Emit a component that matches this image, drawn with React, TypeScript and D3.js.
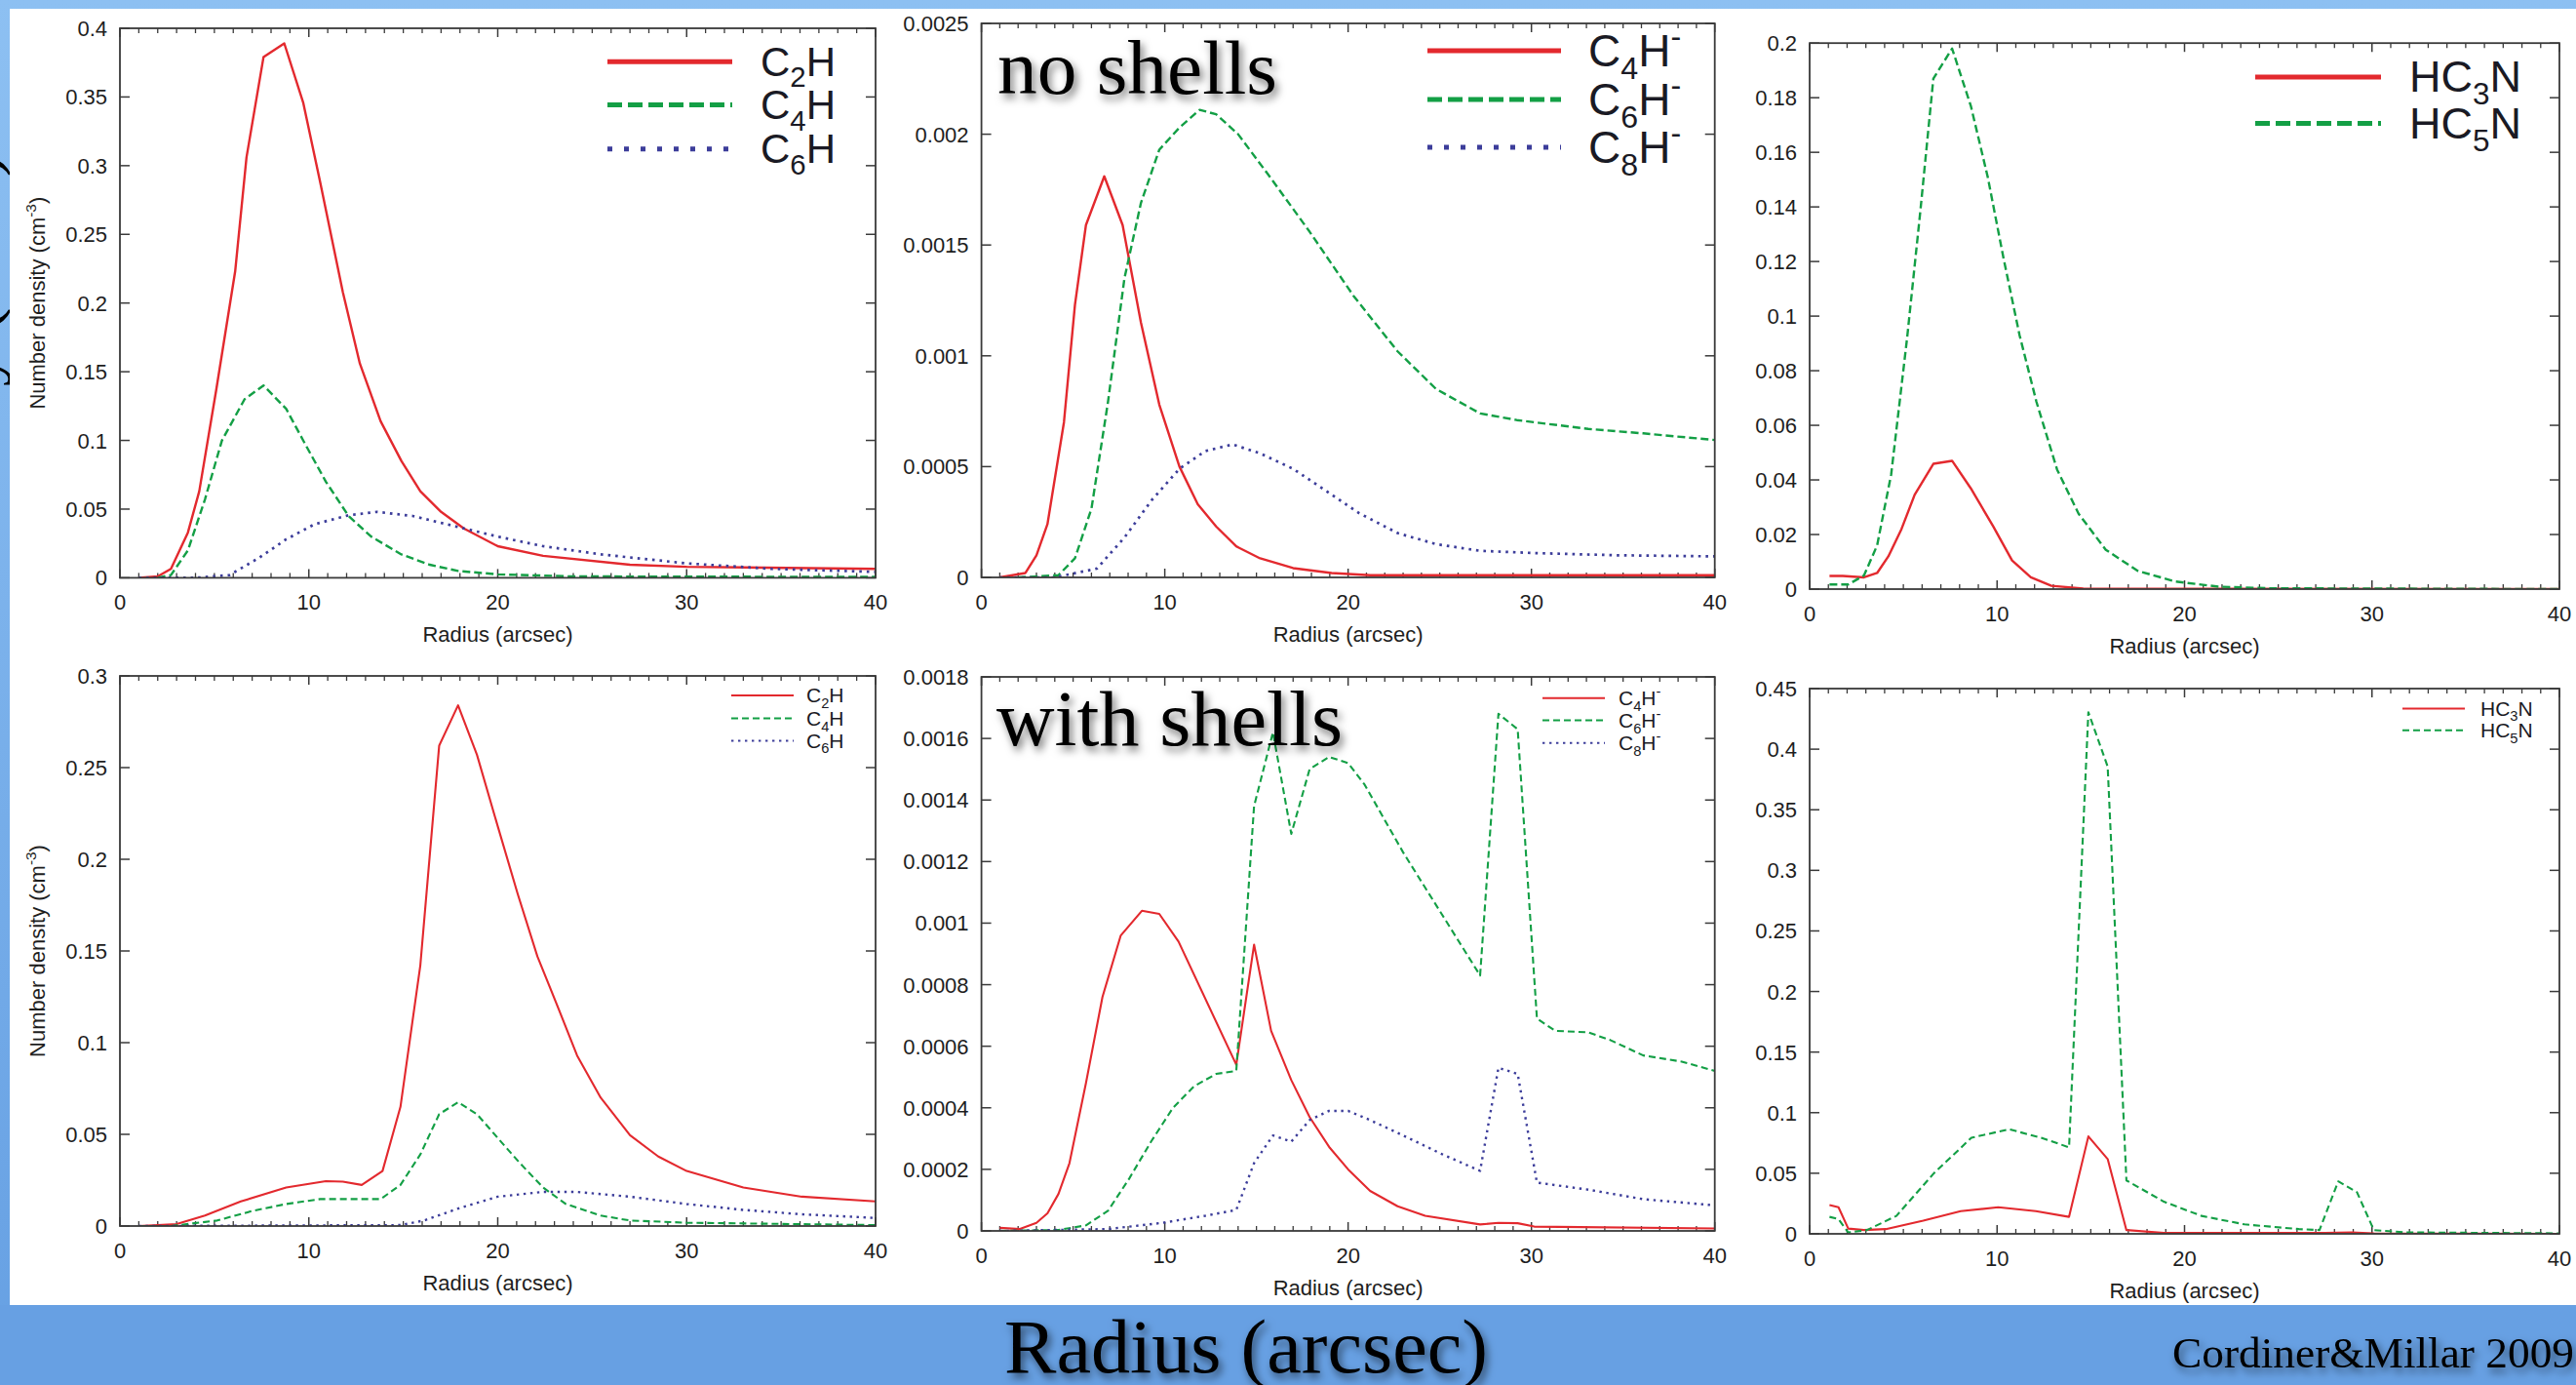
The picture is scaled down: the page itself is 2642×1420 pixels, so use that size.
import React from 'react';
import * as d3 from 'd3';

const W = 2642;
const H = 1420;

type Pt = [number, number];

// ---------- tick labels ----------
const xTicks = [0, 10, 20, 30, 40];
const tlYTicks = [0, 0.05, 0.1, 0.15, 0.2, 0.25, 0.3, 0.35, 0.4];
const tmYTicks = [0, 0.0005, 0.001, 0.0015, 0.002, 0.0025];
const trYTicks = [0, 0.02, 0.04, 0.06, 0.08, 0.1, 0.12, 0.14, 0.16, 0.18, 0.2];
const blYTicks = [0, 0.05, 0.1, 0.15, 0.2, 0.25, 0.3];
const bmYTicks = [0, 0.0002, 0.0004, 0.0006, 0.0008, 0.001, 0.0012, 0.0014, 0.0016, 0.0018];
const brYTicks = [0, 0.05, 0.1, 0.15, 0.2, 0.25, 0.3, 0.35, 0.4, 0.45];

// ---------- series: no shells ----------
const tlC2H: Pt[] = [[1,0],[2,0.001],[2.7,0.0065],[3.6,0.033],[4.2,0.063],[5.1,0.137],[6.1,0.223],[6.7,0.306],[7.6,0.379],[8.7,0.389],[9.7,0.346],[10.6,0.288],[11.8,0.208],[12.7,0.156],[13.8,0.114],[14.9,0.085],[15.9,0.063],[17,0.048],[18.2,0.036],[20,0.023],[22.4,0.016],[27,0.0095],[30,0.008],[40,0.0065]];
const tlC4H: Pt[] = [[2,0],[2.7,0.002],[3.6,0.02],[4.5,0.057],[5.4,0.1],[6.6,0.13],[7.6,0.14],[8.8,0.123],[9.7,0.1],[10.9,0.07],[12.1,0.045],[13.3,0.03],[14.9,0.017],[16.4,0.0095],[17.9,0.005],[20,0.0025],[24,0.001],[40,0.0006]];
const tlC6H: Pt[] = [[1,0],[4,0],[5.8,0.002],[7.3,0.014],[8.8,0.028],[10.3,0.039],[12.1,0.0455],[13.6,0.048],[15.5,0.045],[17.9,0.037],[20,0.03],[22.4,0.023],[25.5,0.017],[30,0.0105],[34.5,0.0065],[40,0.0043]];

const tmC4Hm: Pt[] = [[1,0],[2.4,0.00002],[3,0.0001],[3.6,0.00024],[4.5,0.0007],[5.1,0.00123],[5.7,0.00159],[6.7,0.00181],[7.7,0.00159],[8.7,0.00115],[9.7,0.00078],[10.8,0.0005],[11.8,0.00033],[12.8,0.00023],[13.9,0.00014],[15.2,0.000086],[17,0.000042],[19.1,0.00002],[21.2,0.00001],[40,0.00001]];
const tmC6Hm: Pt[] = [[2,0],[4.2,0.00001],[5.1,0.000086],[6,0.00031],[6.9,0.00079],[7.8,0.00135],[8.7,0.00169],[9.7,0.00193],[10.8,0.00203],[11.9,0.00211],[12.8,0.00209],[14,0.002],[15.8,0.0018],[17.9,0.00156],[20.3,0.00127],[22.7,0.00102],[24.8,0.00085],[27.2,0.00074],[29.2,0.00071],[33.1,0.00067],[36.1,0.00065],[40,0.00062]];
const tmC8Hm: Pt[] = [[1,0],[4,0],[6.3,0.00004],[7.8,0.00018],[9.3,0.00035],[10.8,0.00049],[12.2,0.00057],[13.7,0.0006],[15.2,0.00056],[17,0.00049],[18.8,0.00039],[20.6,0.00029],[22.7,0.0002],[24.8,0.00015],[27.2,0.00012],[30.1,0.00011],[34.6,0.0001],[40,0.000095]];

const trHC3N: Pt[] = [[1.06,0.0048],[1.77,0.0048],[2.9,0.0043],[3.6,0.0059],[4.2,0.012],[4.9,0.022],[5.6,0.0345],[6.6,0.0459],[7.6,0.047],[8.6,0.0369],[9.8,0.0229],[10.8,0.0105],[11.8,0.0043],[12.9,0.0012],[14.6,0.0002],[40,0]];
const trHC5N: Pt[] = [[1.06,0.0017],[2.06,0.0017],[2.9,0.005],[3.6,0.016],[4.35,0.042],[5.2,0.092],[5.9,0.138],[6.6,0.187],[7.6,0.198],[8.6,0.177],[9.5,0.151],[10.35,0.121],[11.2,0.093],[12.1,0.0686],[13.2,0.0438],[14.35,0.0276],[15.8,0.0144],[17.5,0.0067],[19.5,0.0028],[21.8,0.0009],[24.6,0.0003],[40,0]];

// ---------- series: with shells ----------
const blC2H: Pt[] = [[1,0],[3,0.001],[4.5,0.0057],[6.4,0.0134],[8.8,0.021],[10.9,0.0245],[11.8,0.0242],[12.8,0.0224],[13.9,0.03],[14.85,0.065],[15.9,0.142],[16.9,0.262],[17.9,0.284],[18.9,0.257],[20,0.218],[21.06,0.181],[22.1,0.147],[23.2,0.119],[24.2,0.093],[25.45,0.07],[27,0.0495],[28.5,0.0379],[30,0.03],[33,0.021],[36.1,0.016],[40,0.0134]];
const blC4H: Pt[] = [[1,0],[2.7,0],[5.15,0.003],[7,0.0082],[8.8,0.012],[10.6,0.0147],[12.7,0.0147],[13.8,0.0147],[14.85,0.0224],[15.9,0.039],[16.9,0.061],[17.9,0.0675],[18.9,0.061],[20,0.048],[21.2,0.034],[22.4,0.021],[23.6,0.012],[25.45,0.0057],[27,0.003],[30,0.0018],[40,0.0005]];
const blC6H: Pt[] = [[1,0],[14.85,0.0005],[16.1,0.003],[17.9,0.0095],[20,0.016],[22.4,0.0186],[24.2,0.0186],[27,0.016],[30,0.012],[33,0.0088],[36.1,0.0064],[40,0.0044]];

const bmC4Hm: Pt[] = [[1,0.00001],[2.1,0.000006],[3,0.000026],[3.6,0.000057],[4.2,0.00012],[4.8,0.00022],[5.7,0.00048],[6.6,0.00076],[7.6,0.00096],[8.75,0.00104],[9.7,0.00103],[10.75,0.00094],[13.9,0.00054],[14.87,0.00093],[15.8,0.00065],[16.9,0.00049],[17.9,0.00037],[19,0.00027],[20,0.0002],[21.2,0.00013],[22.7,0.00008],[24.2,0.000049],[27.2,0.000021],[28.2,0.000026],[29.25,0.000025],[30.15,0.000014],[40,0.0000077]];
const bmC6Hm: Pt[] = [[1,0],[4.2,0.000003],[5.7,0.000018],[6.9,0.000065],[8.06,0.00017],[9.25,0.00029],[10.45,0.0004],[11.6,0.00047],[12.8,0.00051],[13.9,0.00052],[14.87,0.00138],[15.9,0.00162],[16.9,0.00129],[17.9,0.0015],[18.96,0.00154],[20,0.00152],[20.9,0.00145],[23,0.00123],[25.1,0.00103],[27.2,0.00083],[28.2,0.00168],[29.25,0.00163],[30.3,0.00069],[31.3,0.00065],[33.1,0.000645],[34.3,0.00062],[36.1,0.00057],[38.2,0.00055],[40,0.00052]];
const bmC8Hm: Pt[] = [[1,0],[6.9,0.000006],[9.85,0.000026],[12.2,0.000049],[13.9,0.000068],[14.87,0.00022],[15.9,0.00031],[16.9,0.00029],[17.9,0.00036],[18.96,0.00039],[20,0.00039],[21.2,0.00036],[23,0.00031],[25.1,0.00025],[27.2,0.000195],[28.2,0.00053],[29.25,0.00051],[30.3,0.000157],[33.1,0.000134],[36.1,0.000103],[40,0.000083]];

const brHC3N: Pt[] = [[1.06,0.0238],[1.54,0.0219],[2.06,0.0043],[2.9,0.0031],[4.06,0.0039],[6.06,0.0109],[8.06,0.0187],[10.06,0.0219],[12.07,0.0187],[13.84,0.014],[14.87,0.0804],[15.9,0.0617],[16.9,0.0031],[18.9,0.0008],[27.5,0.0008],[28.9,0.0012],[30.1,0.0004],[40,0]];
const brHC5N: Pt[] = [[1.06,0.014],[1.54,0.0121],[2.06,0.0012],[3.06,0.0031],[4.63,0.0148],[6.63,0.05],[8.63,0.0793],[10.64,0.0863],[12.35,0.0793],[13.84,0.0714],[14.87,0.4305],[15.9,0.3856],[16.9,0.0441],[18.9,0.0265],[20.9,0.0148],[23.2,0.0078],[26.1,0.0039],[27.2,0.0031],[28.2,0.0433],[29.2,0.0343],[30.1,0.0031],[31.8,0.0012],[40,0.0004]];

const labelsHydrocarbons = ['C_2H', 'C_4H', 'C_6H'];
const labelsAnions = ['C_4H^-', 'C_6H^-', 'C_8H^-'];
const labelsCyano = ['HC_3N', 'HC_5N'];

// ---------- styles ----------
const RED = '#e3292e';
const GREEN = '#139f45';
const BLUE = '#3c3d9a';
const SANS = '"Liberation Sans", Arial, Helvetica, sans-serif';
const SERIF = '"Liberation Serif", "DejaVu Serif", serif';

type Style = { color: string; dash: string | null };
const styles: Style[] = [
  { color: RED, dash: null },
  { color: GREEN, dash: 'dash' },
  { color: BLUE, dash: 'dot' },
];

type Panel = {
  id: string;
  x0: number; x1: number; y0: number; y1: number;
  yMax: number; yTicks: number[];
  series: Pt[][];
  labels: string[];
  legend: { lx0: number; lx1: number; tx: number; rows: number[]; fs: number; lw: number; big: boolean };
  ylabel: boolean;
};

const panels: Panel[] = [
  { id: 'tl', x0: 123, x1: 898, y0: 29, y1: 592.4, yMax: 0.4, yTicks: tlYTicks,
    series: [tlC2H, tlC4H, tlC6H], labels: labelsHydrocarbons,
    legend: { lx0: 623, lx1: 751, tx: 780, rows: [63.3, 107.6, 152.7], fs: 42, lw: 5, big: true }, ylabel: true },
  { id: 'tm', x0: 1006.6, x1: 1758.7, y0: 24, y1: 592, yMax: 0.0025, yTicks: tmYTicks,
    series: [tmC4Hm, tmC6Hm, tmC8Hm], labels: labelsAnions,
    legend: { lx0: 1464, lx1: 1601, tx: 1629, rows: [52, 102, 151], fs: 46, lw: 5, big: true }, ylabel: false },
  { id: 'tr', x0: 1856, x1: 2625, y0: 44.2, y1: 604, yMax: 0.2, yTicks: trYTicks,
    series: [trHC3N, trHC5N], labels: labelsCyano,
    legend: { lx0: 2313, lx1: 2442, tx: 2471, rows: [79, 126.6], fs: 45, lw: 5, big: true }, ylabel: false },
  { id: 'bl', x0: 123, x1: 898, y0: 693, y1: 1257, yMax: 0.3, yTicks: blYTicks,
    series: [blC2H, blC4H, blC6H], labels: labelsHydrocarbons,
    legend: { lx0: 750, lx1: 814, tx: 827, rows: [713, 736.6, 759.4], fs: 21, lw: 2, big: false }, ylabel: true },
  { id: 'bm', x0: 1006.6, x1: 1758.7, y0: 694, y1: 1262, yMax: 0.0018, yTicks: bmYTicks,
    series: [bmC4Hm, bmC6Hm, bmC8Hm], labels: labelsAnions,
    legend: { lx0: 1582, lx1: 1646, tx: 1660, rows: [715.7, 738.5, 761.8], fs: 21, lw: 2, big: false }, ylabel: false },
  { id: 'br', x0: 1856, x1: 2625, y0: 706, y1: 1265, yMax: 0.45, yTicks: brYTicks,
    series: [brHC3N, brHC5N], labels: labelsCyano,
    legend: { lx0: 2464, lx1: 2528, tx: 2544, rows: [726.4, 748.7], fs: 21, lw: 2, big: false }, ylabel: false },
];

const fmt = d3.format('~g');

function RichText({ spec, fs }: { spec: string; fs: number }) {
  const parts: { t: string; k: 'n' | 'sub' | 'sup' }[] = [];
  for (let i = 0; i < spec.length; i++) {
    const c = spec[i];
    if (c === '_' && i + 1 < spec.length) { parts.push({ t: spec[i + 1], k: 'sub' }); i++; }
    else if (c === '^' && i + 1 < spec.length) {
      let j = i + 1; let s = '';
      while (j < spec.length && spec[j] !== ')' && spec[j] !== ' ') { s += spec[j]; j++; }
      parts.push({ t: s, k: 'sup' }); i = j - 1;
    }
    else {
      const last = parts[parts.length - 1];
      if (last && last.k === 'n') last.t += c; else parts.push({ t: c, k: 'n' });
    }
  }
  let cur = 0;
  return (
    <>
      {parts.map((p, i) => {
        const target = p.k === 'sub' ? 0.28 * fs : p.k === 'sup' ? -0.42 * fs : 0;
        const dy = target - cur;
        cur = target;
        return (
          <tspan key={i} dy={dy} fontSize={p.k === 'n' ? fs : fs * 0.7}>{p.t}</tspan>
        );
      })}
    </>
  );
}

function dashFor(kind: string | null, big: boolean, legend: boolean): string | undefined {
  if (kind === 'dash') return legend && big ? '15,6' : big ? '8,4' : '7,4';
  if (kind === 'dot') return legend && big ? '5,12' : big ? '2.6,5' : '2.4,4.6';
  return undefined;
}

function PanelView({ p }: { p: Panel }) {
  const x = d3.scaleLinear().domain([0, 40]).range([p.x0, p.x1]);
  const y = d3.scaleLinear().domain([0, p.yMax]).range([p.y1, p.y0]);
  const line = d3.line<Pt>().x(d => x(d[0])).y(d => y(d[1]));
  const minor = d3.range(1, 40).filter(v => v % 10 !== 0);
  const big = p.legend.big;
  const curveW = big ? 2.4 : 2.1;
  const frameC = '#3a3a3a';
  const cx = (p.x0 + p.x1) / 2;
  const cy = (p.y0 + p.y1) / 2;
  return (
    <g>
      <defs>
        <clipPath id={`clip-${p.id}`}>
          <rect x={p.x0} y={p.y0 - 2} width={p.x1 - p.x0} height={p.y1 - p.y0 + 2} />
        </clipPath>
      </defs>
      {minor.map(v => (
        <g key={`m${v}`} stroke={frameC} strokeWidth={1.3}>
          <line x1={x(v)} x2={x(v)} y1={p.y1} y2={p.y1 - 5} />
          <line x1={x(v)} x2={x(v)} y1={p.y0} y2={p.y0 + 5} />
        </g>
      ))}
      {xTicks.map(v => (
        <g key={`x${v}`}>
          <line x1={x(v)} x2={x(v)} y1={p.y1} y2={p.y1 - 9} stroke={frameC} strokeWidth={1.5} />
          <line x1={x(v)} x2={x(v)} y1={p.y0} y2={p.y0 + 9} stroke={frameC} strokeWidth={1.5} />
          <text x={x(v)} y={p.y1 + 33} textAnchor="middle" fontFamily={SANS} fontSize={22} fill="#1e1e1e">{v}</text>
        </g>
      ))}
      {p.yTicks.map(v => (
        <g key={`y${v}`}>
          <line x1={p.x0} x2={p.x0 + 10} y1={y(v)} y2={y(v)} stroke={frameC} strokeWidth={1.5} />
          <line x1={p.x1} x2={p.x1 - 10} y1={y(v)} y2={y(v)} stroke={frameC} strokeWidth={1.5} />
          <text x={p.x0 - 13} y={y(v) + 8} textAnchor="end" fontFamily={SANS} fontSize={22} fill="#1e1e1e">{fmt(v)}</text>
        </g>
      ))}
      <text x={cx} y={p.y1 + 66} textAnchor="middle" fontFamily={SANS} fontSize={22} fill="#1e1e1e">Radius (arcsec)</text>
      {p.ylabel && (
        <text transform={`translate(46,${cy}) rotate(-90)`} textAnchor="middle" fontFamily={SANS} fontSize={22} fill="#1e1e1e">
          <RichText spec="Number density (cm^-3)" fs={22} />
        </text>
      )}
      <g clipPath={`url(#clip-${p.id})`}>
        {p.series.map((s, i) => (
          <path key={i} d={line(s) || ''} fill="none" stroke={styles[i].color}
            strokeWidth={styles[i].dash === 'dot' ? curveW + 0.3 : curveW}
            strokeDasharray={dashFor(styles[i].dash, big, false)}
            strokeLinejoin="round" />
        ))}
      </g>
      <rect x={p.x0} y={p.y0} width={p.x1 - p.x0} height={p.y1 - p.y0} fill="none" stroke={frameC} strokeWidth={1.8} />
      {p.labels.map((lab, i) => (
        <g key={`l${i}`}>
          <line x1={p.legend.lx0} x2={p.legend.lx1} y1={p.legend.rows[i]} y2={p.legend.rows[i]}
            stroke={styles[i].color} strokeWidth={p.legend.lw}
            strokeDasharray={dashFor(styles[i].dash, big, true)} />
          <text x={p.legend.tx} y={p.legend.rows[i] + p.legend.fs * 0.34} fontFamily={SANS} fill="#1a1a24">
            <RichText spec={lab} fs={p.legend.fs} />
          </text>
        </g>
      ))}
    </g>
  );
}

export default function App() {
  return (
    <div style={{ position: 'absolute', left: 0, top: 0, width: W, height: H, overflow: 'hidden' }}>
      <svg width={W} height={H} viewBox={`0 0 ${W} ${H}`} style={{ display: 'block' }}>
        <defs>
          <linearGradient id="bg" x1="0" y1="0" x2="0" y2="1">
            <stop offset="0" stopColor="#8dc0f2" />
            <stop offset="1" stopColor="#66a0e3" />
          </linearGradient>
          <filter id="shadow" x="-10%" y="-30%" width="130%" height="180%">
            <feDropShadow dx="3" dy="5" stdDeviation="4" floodColor="#000" floodOpacity="0.55" />
          </filter>
        </defs>
        <rect x={0} y={0} width={W} height={H} fill="url(#bg)" />
        <rect x={0} y={1338} width={W} height={H - 1338} fill="#67a0e3" />
        {/* large rotated slide label, almost entirely beyond the left edge */}
        <text transform="translate(-4,592) rotate(-90)" fontFamily={SERIF} fontSize={75} fill="#000">
          Density (cm
          <tspan dy={-28} fontSize={50}>-3</tspan>
          <tspan dy={28}>)</tspan>
        </text>
        <rect x={10} y={9} width={W - 10} height={1338 - 9} fill="#ffffff" />
        {panels.map(p => <PanelView key={p.id} p={p} />)}
        <text x={1023} y={96} fontFamily={SERIF} fontSize={78} textLength={287} lengthAdjust="spacingAndGlyphs" fill="#000" filter="url(#shadow)">no shells</text>
        <text x={1022} y={764} fontFamily={SERIF} fontSize={80} textLength={355} lengthAdjust="spacingAndGlyphs" fill="#000" filter="url(#shadow)">with shells</text>
        <text x={1030} y={1407} fontFamily={SERIF} fontSize={79} textLength={496} lengthAdjust="spacingAndGlyphs" fill="#000" filter="url(#shadow)">Radius (arcsec)</text>
        <text x={2228} y={1402} fontFamily={SERIF} fontSize={44} textLength={412} lengthAdjust="spacingAndGlyphs" fill="#000" filter="url(#shadow)">Cordiner&amp;Millar 2009</text>
      </svg>
    </div>
  );
}
